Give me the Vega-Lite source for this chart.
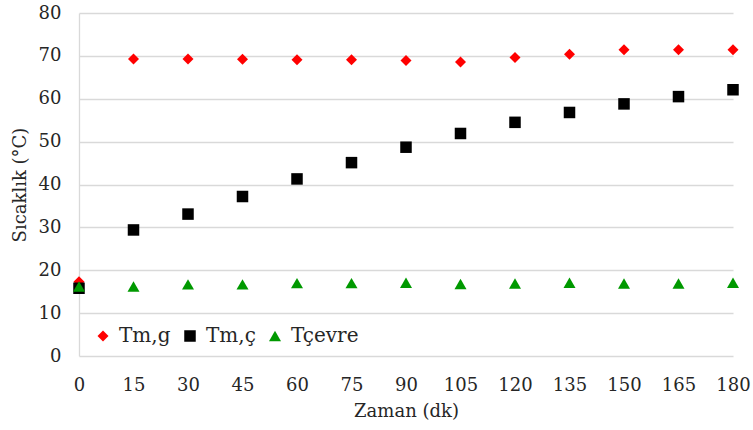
{
  "$schema": "https://vega.github.io/schema/vega-lite/v6.json",
  "width": 654,
  "height": 343,
  "autosize": {"type": "none"},
  "padding": {"left": 79, "top": 13, "right": 20, "bottom": 74},
  "background": "white",
  "config": {
    "view": {"stroke": null},
    "font": "DejaVu Serif"
  },
  "data": {
    "values": [
      {"t": 0, "seri": "Tm,g", "T": 17.3},
      {"t": 15, "seri": "Tm,g", "T": 69.3},
      {"t": 30, "seri": "Tm,g", "T": 69.3},
      {"t": 45, "seri": "Tm,g", "T": 69.2},
      {"t": 60, "seri": "Tm,g", "T": 69.1},
      {"t": 75, "seri": "Tm,g", "T": 69.1},
      {"t": 90, "seri": "Tm,g", "T": 68.9},
      {"t": 105, "seri": "Tm,g", "T": 68.6},
      {"t": 120, "seri": "Tm,g", "T": 69.6},
      {"t": 135, "seri": "Tm,g", "T": 70.4},
      {"t": 150, "seri": "Tm,g", "T": 71.4},
      {"t": 165, "seri": "Tm,g", "T": 71.4},
      {"t": 180, "seri": "Tm,g", "T": 71.4},
      {"t": 0, "seri": "Tm,ç", "T": 15.8},
      {"t": 15, "seri": "Tm,ç", "T": 29.4},
      {"t": 30, "seri": "Tm,ç", "T": 33.1},
      {"t": 45, "seri": "Tm,ç", "T": 37.2},
      {"t": 60, "seri": "Tm,ç", "T": 41.3},
      {"t": 75, "seri": "Tm,ç", "T": 45.1},
      {"t": 90, "seri": "Tm,ç", "T": 48.7},
      {"t": 105, "seri": "Tm,ç", "T": 51.9},
      {"t": 120, "seri": "Tm,ç", "T": 54.5},
      {"t": 135, "seri": "Tm,ç", "T": 56.8},
      {"t": 150, "seri": "Tm,ç", "T": 58.8},
      {"t": 165, "seri": "Tm,ç", "T": 60.5},
      {"t": 180, "seri": "Tm,ç", "T": 62.1},
      {"t": 0, "seri": "Tçevre", "T": 16.2},
      {"t": 15, "seri": "Tçevre", "T": 16.2},
      {"t": 30, "seri": "Tçevre", "T": 16.7},
      {"t": 45, "seri": "Tçevre", "T": 16.7},
      {"t": 60, "seri": "Tçevre", "T": 17.0},
      {"t": 75, "seri": "Tçevre", "T": 17.0},
      {"t": 90, "seri": "Tçevre", "T": 17.1},
      {"t": 105, "seri": "Tçevre", "T": 16.8},
      {"t": 120, "seri": "Tçevre", "T": 16.9},
      {"t": 135, "seri": "Tçevre", "T": 17.1},
      {"t": 150, "seri": "Tçevre", "T": 16.9},
      {"t": 165, "seri": "Tçevre", "T": 16.9},
      {"t": 180, "seri": "Tçevre", "T": 17.1}
    ]
  },
  "mark": {"type": "point", "filled": true, "opacity": 1},
  "encoding": {
    "x": {
      "field": "t",
      "type": "quantitative",
      "scale": {"domain": [0, 180], "nice": false, "zero": false},
      "axis": {
        "title": "Zaman (dk)",
        "values": [0, 15, 30, 45, 60, 75, 90, 105, 120, 135, 150, 165, 180],
        "grid": false,
        "domain": false,
        "ticks": false,
        "labelPadding": 20,
        "labelFontSize": 18,
        "labelColor": "#262626",
        "labelFlush": false,
        "titleFontSize": 18,
        "titleFontWeight": "normal",
        "titleColor": "#262626",
        "titlePadding": 8
      }
    },
    "y": {
      "field": "T",
      "type": "quantitative",
      "scale": {"domain": [0, 80], "nice": false},
      "axis": {
        "title": "Sıcaklık (°C)",
        "values": [0, 10, 20, 30, 40, 50, 60, 70, 80],
        "grid": true,
        "gridColor": "#d9d9d9",
        "gridWidth": 1.3,
        "domain": true,
        "domainColor": "#d9d9d9",
        "domainWidth": 1.3,
        "ticks": false,
        "labelPadding": 18,
        "labelFontSize": 18,
        "labelColor": "#262626",
        "titleFontSize": 18,
        "titleFontWeight": "normal",
        "titleColor": "#262626",
        "titlePadding": 9
      }
    },
    "color": {
      "field": "seri",
      "type": "nominal",
      "scale": {"domain": ["Tm,g", "Tm,ç", "Tçevre"], "range": ["#ff0000", "#000000", "#009900"]},
      "legend": {
        "title": null,
        "orient": "none",
        "legendX": 14,
        "legendY": 313,
        "direction": "horizontal",
        "labelFontSize": 20,
        "labelColor": "#262626",
        "labelOffset": 6,
        "columnPadding": 9,
        "symbolSize": 121,
        "symbolOpacity": 1
      }
    },
    "shape": {
      "field": "seri",
      "type": "nominal",
      "scale": {"domain": ["Tm,g", "Tm,ç", "Tçevre"], "range": ["diamond", "square", "triangle-up"]}
    },
    "size": {
      "field": "seri",
      "type": "nominal",
      "scale": {"domain": ["Tm,g", "Tm,ç", "Tçevre"], "range": [121, 144, 130]},
      "legend": null
    }
  }
}
